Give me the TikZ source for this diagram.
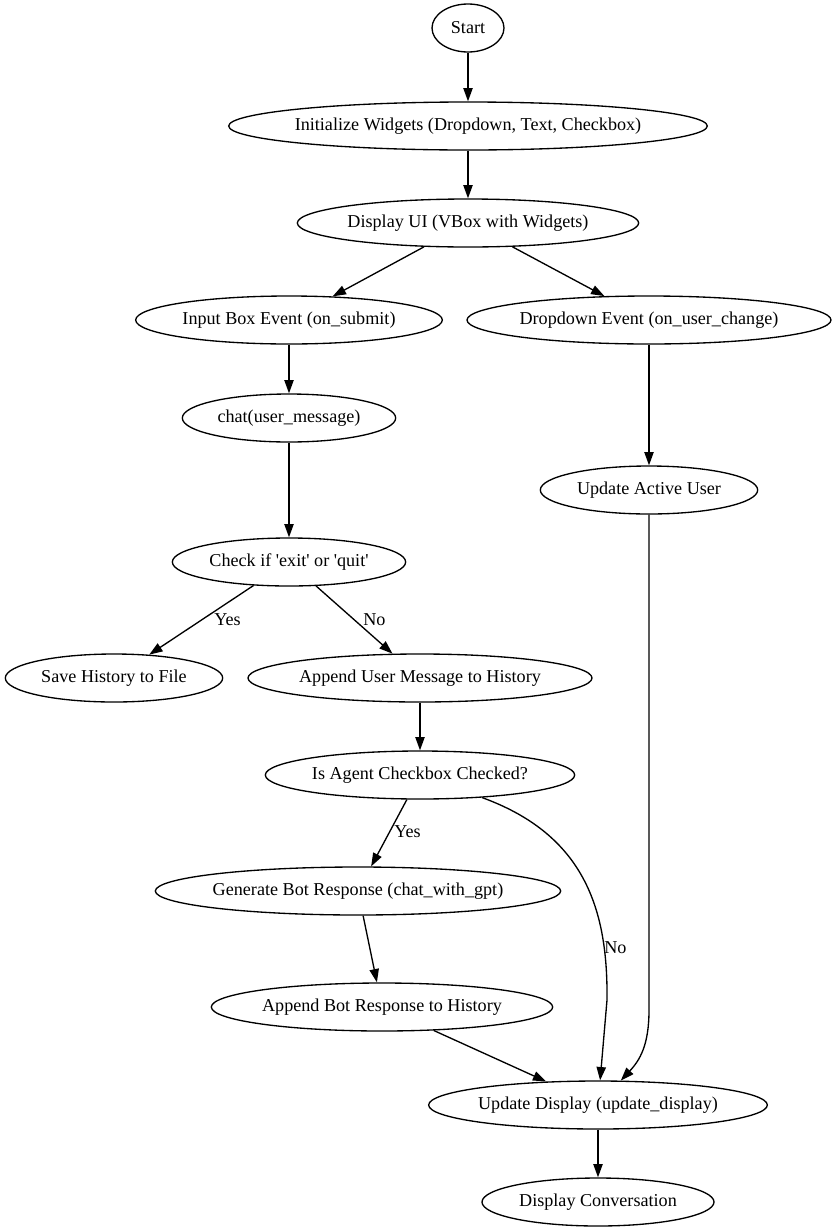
\documentclass[tikz,border=0pt]{standalone}
\usepackage{fontspec}
\setmainfont{Liberation Serif}
\usetikzlibrary{shapes.geometric,arrows.meta}
\tikzset{
  stage/.style={draw,ellipse,line width=1pt,inner ysep=0pt,inner xsep=-3pt,minimum height=36pt,font=\fontsize{13.6}{16.3}\selectfont},
  flow/.style={-{Triangle[length=10pt,width=7pt]},line width=1pt},
  lbl/.style={anchor=west,inner sep=0pt,font=\fontsize{13.6}{16.3}\selectfont}
}
\begin{document}
\begin{tikzpicture}[x=0.75pt,y=0.75pt,yscale=-1,xscale=1]
\useasboundingbox (0,0) rectangle (837,1232);

%Shape: Ellipse 
\node[stage,minimum width=54pt] (start) at (468,28) {Start};
%Shape: Ellipse 
\node[stage,minimum width=358pt] (init) at (468,126) {Initialize Widgets (Dropdown, Text, Checkbox)};
%Shape: Ellipse 
\node[stage,minimum width=256pt] (ui) at (468,223) {Display UI (VBox with Widgets)};
%Shape: Ellipse 
\node[stage,minimum width=230pt] (input) at (289,320) {Input Box Event (on\_submit)};
%Shape: Ellipse 
\node[stage,minimum width=273pt] (dropdown) at (649,320) {Dropdown Event (on\_user\_change)};
%Shape: Ellipse 
\node[stage,minimum width=160pt] (chat) at (289,418) {chat(user\_message)};
%Shape: Ellipse 
\node[stage,minimum width=163pt] (active) at (649,490) {Update Active User};
%Shape: Ellipse 
\node[stage,minimum width=175pt] (check) at (289,562) {Check if \textquotesingle exit\textquotesingle{} or \textquotesingle quit\textquotesingle};
%Shape: Ellipse 
\node[stage,minimum width=163pt] (save) at (114,678) {Save History to File};
%Shape: Ellipse 
\node[stage,minimum width=258pt] (appuser) at (420,678) {Append User Message to History};
%Shape: Ellipse 
\node[stage,minimum width=232pt] (agent) at (420,775) {Is Agent Checkbox Checked?};
%Shape: Ellipse 
\node[stage,minimum width=304pt] (gen) at (358,891) {Generate Bot Response (chat\_with\_gpt)};
%Shape: Ellipse 
\node[stage,minimum width=256pt] (appbot) at (382,1007) {Append Bot Response to History};
%Shape: Ellipse 
\node[stage,minimum width=254pt] (upd) at (598,1105) {Update Display (update\_display)};
%Shape: Ellipse 
\node[stage,minimum width=174pt] (conv) at (598,1202) {Display Conversation};

%Straight Lines
\draw[flow] (start) -- (init);
\draw[flow] (init) -- (ui);
\draw[flow] (ui) -- (input);
\draw[flow] (ui) -- (dropdown);
\draw[flow] (input) -- (chat);
\draw[flow] (chat) -- (check);
\draw[flow] (dropdown) -- (active);
\draw[flow] (check) -- (save);
\draw[flow] (check) -- (appuser);
\draw[flow] (appuser) -- (agent);
\draw[flow] (agent) -- (gen);
\draw[flow] (gen) -- (appbot);
\draw[flow] (appbot) -- (upd);
\draw[flow] (upd) -- (conv);
%Curve Lines
\draw[flow] (agent) .. controls (585,835) and (608,910) .. (607,1000) -- (upd);
\draw[flow] (active) -- (649,1010) .. controls (649,1045) and (640,1060) .. (upd);

% Text Node
\node[lbl] (yes1) at (214,620) {Yes};
% Text Node
\node[lbl] (no1) at (363,620) {No};
% Text Node
\node[lbl] (yes2) at (394,832) {Yes};
% Text Node
\node[lbl] (no2) at (604,948) {No};

\end{tikzpicture}
\end{document}
